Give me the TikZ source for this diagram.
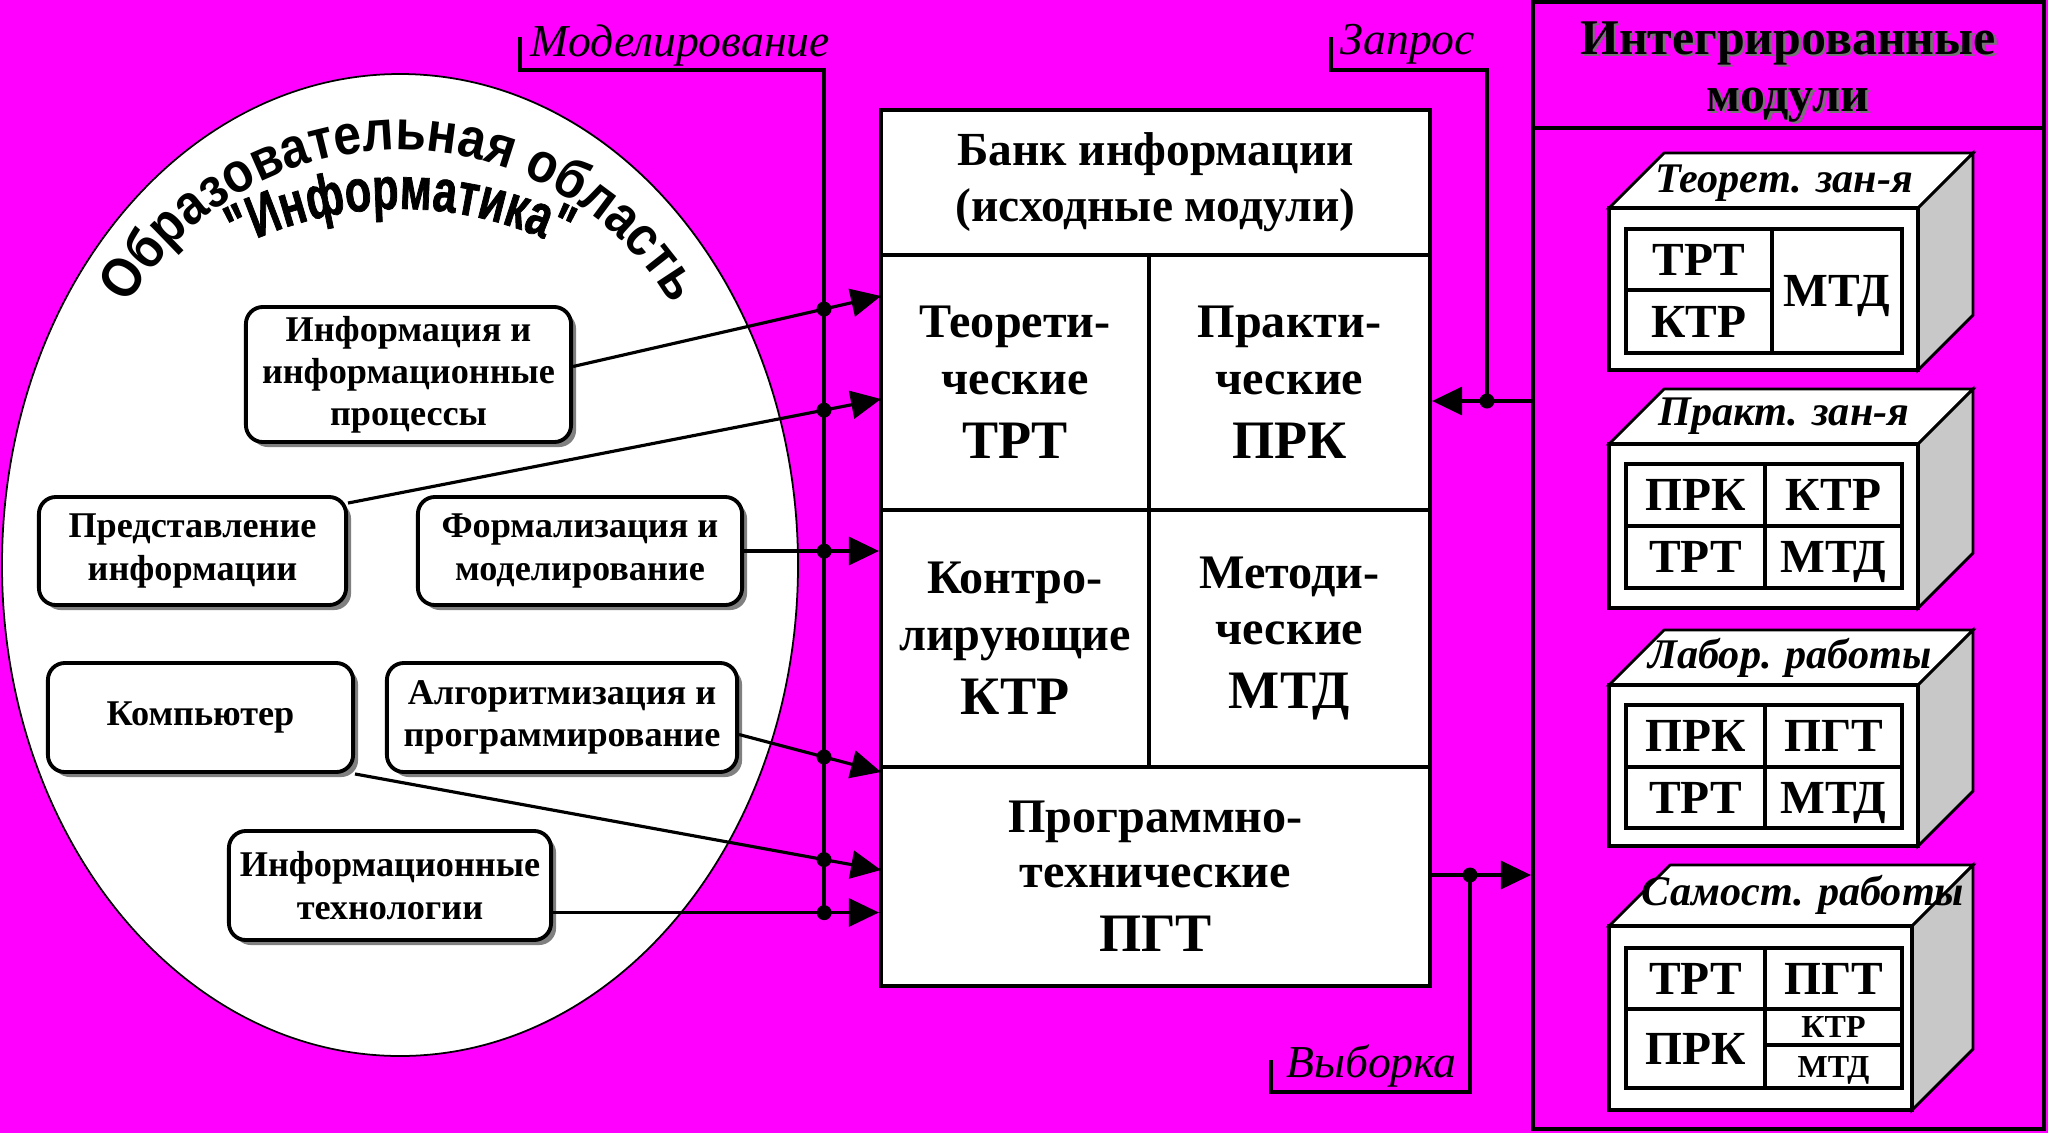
\documentclass[tikz,border=0pt]{standalone}
\usepackage{fontspec}
\setmainfont{Liberation Serif}
\newfontfamily\sansn{Liberation Sans}[FakeStretch=0.88]
\newfontfamily\sansnn{Liberation Sans}[UprightFont={* Bold}, FakeStretch=0.72, FakeBold=1.2]
\usetikzlibrary{arrows.meta,shadows,decorations.text,calc}
\definecolor{mag}{RGB}{255,0,255}
\definecolor{shade}{RGB}{128,128,128}
\definecolor{sidegray}{RGB}{200,200,200}
\newcommand\fsz[2]{\fontsize{#1}{#2}\selectfont}
\newcommand\arcfontA{\sansn\bfseries\fsz{16}{19}}
\newcommand\arcfontB{\sansnn\fsz{17}{20}}
\newcommand\mkblock[3]{%
  \draw[line width=0.8pt, fill=white] (1609,-#1) -- (1609+#3,-#1+#3) -- (1973,-#1+#3) -- (1973-#3,-#1) -- cycle;
  \draw[line width=0.8pt, fill=sidegray] (1973-#3,-#1) -- (1973,-#1+#3) -- (1973,-#2+#3) -- (1973-#3,-#2) -- cycle;
  \draw[line width=1.1pt, fill=white] (1609,-#1) rectangle (1973-#3,-#2);
}
\begin{document}
\begin{tikzpicture}[x=0.01cm,y=0.01cm,
  conn/.style={line width=0.9pt},
  arr/.style={line width=0.9pt, -{Triangle[length=0.3cm,width=0.28cm]}},
  rbox/.style={draw, line width=1.1pt, fill=white, rounded corners=0.17cm, align=center,
    font=\bfseries\fsz{10.3}{12}, inner sep=0pt,
    drop shadow={shadow xshift=0.05cm, shadow yshift=-0.05cm, fill=shade, opacity=1}},
  cell/.style={draw, line width=1pt, fill=white, align=center, inner sep=0pt},
  dot/.style={circle, fill=black, inner sep=0pt, minimum size=0.15cm},
  lbl/.style={font=\itshape\fsz{13}{15}, inner sep=0pt, anchor=base west},
  ttext/.style={font=\bfseries\fsz{13.5}{15}, inner sep=0pt, text height=0.31cm, text depth=0pt},
  stext/.style={font=\bfseries\fsz{9.1}{11}, inner sep=0pt, text height=0.21cm, text depth=0pt},
  blabel/.style={font=\bfseries\itshape\fsz{12}{14}, inner sep=0pt, anchor=base},
  tline/.style={line width=0.9pt}
]
\fill[mag] (0,0) rectangle (2048,-1133);
\useasboundingbox (0,0) rectangle (2048,-1133);

% ellipse
\draw[fill=white, line width=0.5pt] (400,-565) ellipse [x radius=398, y radius=491];
\path[decorate, decoration={text along path, text align=center,
   text={|\arcfontA|Образовательная область}}]
   (400,-466) ++(160:316) arc[start angle=160, end angle=20, radius=316];
\path[decorate, decoration={text along path, text align=center,
   text={|\arcfontB|"Информатика"}}]
   (400,-568) ++(135:359) arc[start angle=135, end angle=45, radius=359];

% rounded boxes
\node[rbox, minimum width=3.25cm, minimum height=1.35cm] (b1) at (408.5,-374.5) {Информация и\\информационные\\процессы};
\node[rbox, minimum width=3.07cm, minimum height=1.08cm] (b2) at (192.5,-551) {Представление\\информации};
\node[rbox, minimum width=3.24cm, minimum height=1.08cm] (b3) at (580,-551) {Формализация и\\моделирование};
\node[rbox, minimum width=3.05cm, minimum height=1.09cm] (b4) at (200.5,-717.5) {\raisebox{0.06cm}{Компьютер}};
\node[rbox, minimum width=3.50cm, minimum height=1.09cm] (b5) at (562,-717.5) {Алгоритмизация и\\программирование};
\node[rbox, minimum width=3.22cm, minimum height=1.09cm] (b6) at (390,-885.5) {Информационные\\технологии};

% bank
\node[cell, minimum width=5.49cm, minimum height=1.45cm, font=\bfseries\fsz{13.5}{16}] (bhead) at (1155.5,-182.5) {Банк информации\\(исходные модули)};
\node[cell, minimum width=2.68cm, minimum height=2.55cm, font=\bfseries\fsz{13.7}{16.2}] (ctrt) at (1015,-382.5) {Теорети-\\ческие\\[2pt]{\fsz{15.4}{18}ТРТ}};
\node[cell, minimum width=2.81cm, minimum height=2.55cm, font=\bfseries\fsz{13.7}{16.2}] (cprk) at (1289.5,-382.5) {Практи-\\ческие\\[2pt]{\fsz{15.4}{18}ПРК}};
\node[cell, minimum width=2.68cm, minimum height=2.57cm, font=\bfseries\fsz{13.7}{16.2}] (cktr) at (1015,-638.5) {Контро-\\лирующие\\[2pt]{\fsz{15.4}{18}КТР}};
\node[cell, minimum width=2.81cm, minimum height=2.57cm, font=\bfseries\fsz{13.7}{16.2}] (cmtd) at (1289.5,-638.5) {Методи-\\ческие\\[2pt]{\fsz{15.4}{18}МТД}};
\node[cell, minimum width=5.49cm, minimum height=2.19cm, font=\bfseries\fsz{13.7}{15.4}] (cpgt) at (1155.5,-876.5) {Программно-\\технические\\[3pt]{\fsz{15.4}{18}ПГТ}};
\node[draw, line width=1.1pt, minimum width=5.49cm, minimum height=8.76cm, inner sep=0pt] (bank) at (1155.5,-548) {};

% integrated panel
\node[draw, line width=1.1pt, minimum width=5.11cm, minimum height=11.27cm, inner sep=0pt] (panel) at (1788.5,-565.5) {};
\coordinate (hsepL) at (1533,-128);
\coordinate (hsepR) at (2044,-128);
\draw[line width=1.1pt] (hsepL) -- (hsepR);
\node[font=\bfseries\fsz{14.2}{16.2}, align=center, inner sep=0pt, text=black!55] (ihs) at (1790.5,-74.5) {Интегрированные\\модули};
\node[font=\bfseries\fsz{14.2}{16.2}, align=center, inner sep=0pt] (ih) at (1788,-72) {Интегрированные\\модули};

% bus and connectors
\coordinate (mtick) at (520,-37);
\coordinate (bustop) at (824,-70);
\coordinate (s1) at ($(b1.east)+(0,8)$);
\coordinate (t1) at (881,-296);
\coordinate (s2) at ($(b2.north east)+(0,-8)$);
\coordinate (t2) at (881,-399);
\coordinate (s3) at (b3.east);
\coordinate (t3) at (s3 -| bank.west);
\coordinate (s4) at ($(b5.east)+(0,-17)$);
\coordinate (t4) at (881,-772);
\coordinate (s5) at (b4.south east);
\coordinate (t5) at (881,-870);
\coordinate (s6) at ($(b6.east)+(0,-27)$);
\coordinate (t6) at (s6 -| bank.west);
\coordinate (busbot) at (s6 -| bustop);
\draw[conn] (mtick) |- (bustop) -- (busbot);
\foreach \i in {1,...,6} {
  \draw[arr] (s\i) -- (t\i);
  \node[dot] (d\i) at (intersection cs: first line={(s\i)--(t\i)}, second line={(bustop)--(busbot)}) {};
}
\node[lbl] (lmod) at (530,-56) {Моделирование};

% Zapros
\coordinate (ztick) at (1331,-37);
\coordinate (zcorner) at (1487,-70);
\coordinate (zsrc) at (panel.west |- 0,-401);
\coordinate (zdst) at (bank.east |- zsrc);
\draw[arr] (zsrc) -- (zdst);
\draw[conn] (ztick) |- (zcorner) -- (zcorner |- zsrc);
\node[dot] (zdot) at (zcorner |- zsrc) {};
\node[lbl] (lzap) at (1340,-54) {Запрос};

% Vyborka
\coordinate (vsrc) at (bank.east |- 0,-875);
\coordinate (vdst) at (panel.west |- vsrc);
\coordinate (vcorner) at (1470,-1092);
\coordinate (vtick) at (1271,-1060);
\draw[arr] (vsrc) -- (vdst);
\draw[conn] (vcorner |- vsrc) -- (vcorner) -| (vtick);
\node[dot] (vdot) at (vcorner |- vsrc) {};
\node[lbl] (lvyb) at (1286,-1077) {Выборка};

% block 1
\mkblock{208}{370}{55}
\node[blabel] (l1) at (1784,-192) {Теорет. зан-я};
\draw[tline] (1626,-229) rectangle (1902,-353);
\draw[tline] (1772,-229) -- (1772,-353);
\draw[tline] (1626,-290) -- (1772,-290);
\node[ttext] (k1a) at (1699,-259.5) {ТРТ};
\node[ttext] (k1b) at (1699,-321.5) {КТР};
\node[ttext] (k1c) at (1837,-291) {МТД};

% block 2
\mkblock{444}{608}{55}
\node[blabel] (l2) at (1784,-425) {Практ. зан-я};
\draw[tline] (1626,-464) rectangle (1902,-588);
\draw[tline] (1765,-464) -- (1765,-588);
\draw[tline] (1626,-526) -- (1902,-526);
\node[ttext] (k2a) at (1695.5,-495) {ПРК};
\node[ttext] (k2b) at (1833.5,-495) {КТР};
\node[ttext] (k2c) at (1695.5,-557) {ТРТ};
\node[ttext] (k2d) at (1833.5,-557) {МТД};

% block 3
\mkblock{685}{846}{55}
\node[blabel] (l3) at (1790,-668) {Лабор. работы};
\draw[tline] (1626,-705) rectangle (1902,-828);
\draw[tline] (1765,-705) -- (1765,-828);
\draw[tline] (1626,-767) -- (1902,-767);
\node[ttext] (k3a) at (1695.5,-736) {ПРК};
\node[ttext] (k3b) at (1833.5,-736) {ПГТ};
\node[ttext] (k3c) at (1695.5,-797.5) {ТРТ};
\node[ttext] (k3d) at (1833.5,-797.5) {МТД};

% block 4
\mkblock{926}{1110}{61}
\node[blabel] (l4) at (1803,-905) {Самост. работы};
\draw[tline] (1626,-948) rectangle (1902,-1088);
\draw[tline] (1765,-948) -- (1765,-1088);
\draw[tline] (1626,-1009) -- (1902,-1009);
\draw[tline] (1765,-1045) -- (1902,-1045);
\node[ttext] (k4a) at (1695.5,-978.5) {ТРТ};
\node[ttext] (k4b) at (1833.5,-978.5) {ПГТ};
\node[ttext] (k4c) at (1695.5,-1048.5) {ПРК};
\node[stext] (k4d) at (1833.5,-1027) {КТР};
\node[stext] (k4e) at (1833.5,-1066.5) {МТД};
\end{tikzpicture}
\end{document}
